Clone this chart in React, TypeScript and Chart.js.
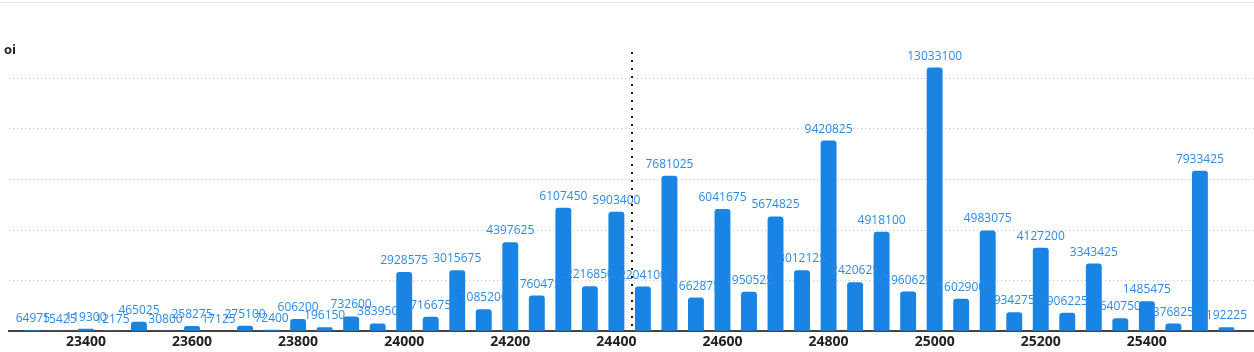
import React, { useEffect, useRef } from "react";
import { Chart, registerables } from "chart.js";

Chart.register(...registerables);

const strikes = [
  23300, 23350, 23400, 23450, 23500, 23550, 23600, 23650, 23700, 23750,
  23800, 23850, 23900, 23950, 24000, 24050, 24100, 24150, 24200, 24250,
  24300, 24350, 24400, 24450, 24500, 24550, 24600, 24650, 24700, 24750,
  24800, 24850, 24900, 24950, 25000, 25050, 25100, 25150, 25200, 25250,
  25300, 25350, 25400, 25450, 25500, 25550,
];

const oiValues = [
  64975, 15425, 119300, 12175, 465025, 30800, 258275, 17125, 275100, 72400,
  606200, 196150, 732600, 383950, 2928575, 716675, 3015675, 1085200, 4397625, 1760475,
  6107450, 2216850, 5903400, 2204100, 7681025, 1662875, 6041675, 1950525, 5674825, 3012125,
  9420825, 2420625, 4918100, 1960625, 13033100, 1602900, 4983075, 934275, 4127200, 906225,
  3343425, 640750, 1485475, 376825, 7933425, 192225,
];

const xTickValues = [23400, 23600, 23800, 24000, 24200, 24400, 24600, 24800, 25000, 25200, 25400];
const yGridValues = [0, 2500000, 5000000, 7500000, 10000000, 12500000];
const spotPrice = 24430;
const yTitle = "oi";

const BAR_COLOR = "#1a84e5";
const LABEL_COLOR = "#2a8ae6";

const valueLabels = {
  id: "valueLabels",
  afterDatasetsDraw(chart: any) {
    const ctx = chart.ctx;
    const meta = chart.getDatasetMeta(0);
    ctx.save();
    ctx.font = '12px "Open Sans", sans-serif';
    ctx.fillStyle = LABEL_COLOR;
    ctx.textAlign = "center";
    ctx.textBaseline = "alphabetic";
    meta.data.forEach((bar: any, i: number) => {
      ctx.fillText(String(oiValues[i]), bar.x, bar.y - 8);
    });
    ctx.restore();
  },
};

const spotLine = {
  id: "spotLine",
  afterDatasetsDraw(chart: any) {
    const { ctx, chartArea, scales } = chart;
    const x = Math.round(scales.x.getPixelForValue(spotPrice));
    ctx.save();
    ctx.strokeStyle = "#111";
    ctx.lineWidth = 2;
    ctx.setLineDash([2, 6]);
    ctx.beginPath();
    ctx.moveTo(x, chartArea.top);
    ctx.lineTo(x, chartArea.bottom);
    ctx.stroke();
    ctx.restore();
  },
};

const titleText = {
  id: "titleText",
  afterDraw(chart: any) {
    const ctx = chart.ctx;
    ctx.save();
    ctx.font = 'bold 13px "Open Sans", sans-serif';
    ctx.fillStyle = "#222";
    ctx.textAlign = "left";
    ctx.textBaseline = "middle";
    ctx.fillText(yTitle, 4, 50);
    ctx.restore();
  },
};

export default function App() {
  const canvasRef = useRef<HTMLCanvasElement | null>(null);

  useEffect(() => {
    document.body.style.margin = "0";
    const canvas = canvasRef.current;
    if (!canvas) return;
    const chart = new Chart(canvas, {
      type: "bar",
      data: {
        datasets: [
          {
            label: yTitle,
            data: strikes.map((s, i) => ({ x: s, y: oiValues[i] })),
            backgroundColor: BAR_COLOR,
            borderRadius: 3,
            categoryPercentage: 0.75,
            barPercentage: 0.8,
          },
        ],
      },
      options: {
        animation: false,
        responsive: true,
        maintainAspectRatio: false,
        layout: { padding: { top: 52, left: 9, right: 0, bottom: 0 } },
        plugins: {
          legend: { display: false },
          tooltip: { enabled: false },
        },
        scales: {
          x: {
            type: "linear",
            offset: false,
            min: 23255,
            max: 25602,
            afterBuildTicks: (scale: any) => {
              scale.ticks = xTickValues.map((v) => ({ value: v }));
            },
            grid: { display: false, drawTicks: false, offset: false },
            border: { display: true, color: "#444", width: 2 },
            ticks: {
              autoSkip: false,
              maxRotation: 0,
              padding: 2,
              color: "#222",
              font: { family: '"Open Sans", sans-serif', size: 14, weight: "bold" },
              callback: (v: any) => String(v),
            },
          },
          y: {
            min: 0,
            max: 13800000,
            afterBuildTicks: (scale: any) => {
              scale.ticks = yGridValues.map((v) => ({ value: v }));
            },
            grid: { color: "#c4c4c4", drawTicks: false, lineWidth: 1 },
            border: { display: false, dash: [1, 3] },
            ticks: { display: false },
          },
        },
      },
      plugins: [valueLabels, spotLine, titleText],
    });
    return () => chart.destroy();
  }, []);

  return (
    <div style={{ position: "relative", width: "100%", height: 352 }}>
      <div
        style={{
          position: "absolute",
          top: 2,
          left: 0,
          right: 0,
          height: 0,
          borderTop: "1px solid #e3e3e3",
        }}
      />
      <canvas ref={canvasRef} />
    </div>
  );
}
